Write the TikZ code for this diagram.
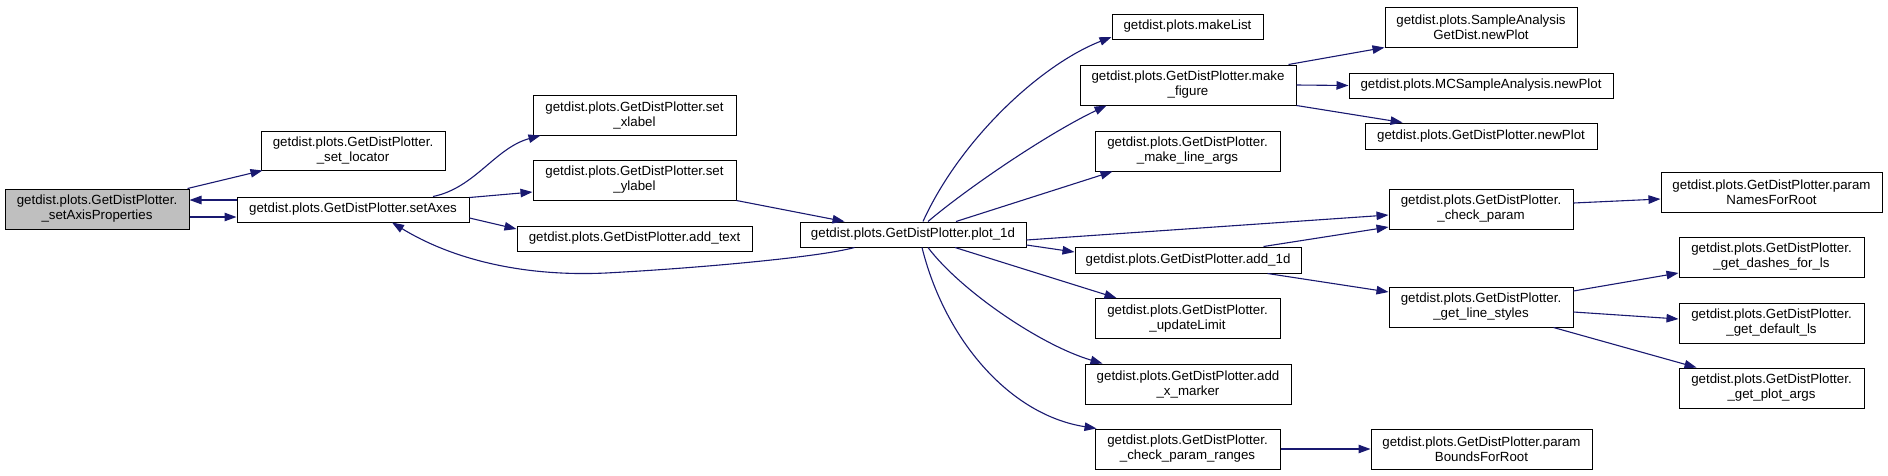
\documentclass[tikz,border=0pt]{standalone}
\usepackage{fontspec}
\setmainfont{Liberation Sans}
\usetikzlibrary{arrows.meta}
\definecolor{edgeblue}{HTML}{191970}
\definecolor{curgray}{HTML}{BFBFBF}
\begin{document}
\begin{tikzpicture}[x=1pt,y=-1pt,
  box/.style={draw=black,line width=1pt,fill=white,inner sep=0pt,align=center,
    font=\fontsize{13.3}{15}\selectfont},
  cur/.style={box,fill=curgray},
  call/.style={draw=edgeblue,line width=1.1pt,-{Triangle[length=12pt,width=8.5pt]},fill=none},
]
\useasboundingbox (0,0) rectangle (1888,475);

\node[cur, minimum width=184pt, minimum height=40pt] (sap) at (97,209) {getdist.plots.GetDistPlotter.\\\_setAxisProperties};
\node[box, minimum width=184pt, minimum height=39pt] (loc) at (353,150.5) {getdist.plots.GetDistPlotter.\\\_set\_locator};
\node[box, minimum width=232pt, minimum height=25pt] (setAxes) at (353,209.5) {getdist.plots.GetDistPlotter.setAxes};
\node[box, minimum width=203pt, minimum height=40pt] (xlab) at (634.5,115) {getdist.plots.GetDistPlotter.set\\\_xlabel};
\node[box, minimum width=203pt, minimum height=40pt] (ylab) at (634.5,180) {getdist.plots.GetDistPlotter.set\\\_ylabel};
\node[box, minimum width=235pt, minimum height=25pt] (addtext) at (634.5,238.5) {getdist.plots.GetDistPlotter.add\_text};
\node[box, minimum width=226pt, minimum height=25pt] (plot1d) at (913,234.5) {getdist.plots.GetDistPlotter.plot\_1d};
\node[box, minimum width=151pt, minimum height=25pt] (makeList) at (1187.5,26.5) {getdist.plots.makeList};
\node[box, minimum width=216pt, minimum height=40pt] (makefig) at (1188,85) {getdist.plots.GetDistPlotter.make\\\_figure};
\node[box, minimum width=185pt, minimum height=40pt] (mla) at (1187.5,151) {getdist.plots.GetDistPlotter.\\\_make\_line\_args};
\node[box, minimum width=226pt, minimum height=26pt] (add1d) at (1188,260) {getdist.plots.GetDistPlotter.add\_1d};
\node[box, minimum width=185pt, minimum height=40pt] (upd) at (1187.5,318.5) {getdist.plots.GetDistPlotter.\\\_updateLimit};
\node[box, minimum width=206pt, minimum height=40pt] (xmark) at (1188,384) {getdist.plots.GetDistPlotter.add\\\_x\_marker};
\node[box, minimum width=185pt, minimum height=40pt] (cpr) at (1187.5,449) {getdist.plots.GetDistPlotter.\\\_check\_param\_ranges};
\node[box, minimum width=192pt, minimum height=40pt] (sagd) at (1481,27) {getdist.plots.SampleAnalysis\\GetDist.newPlot};
\node[box, minimum width=264pt, minimum height=25pt] (mcsa) at (1481,85.5) {getdist.plots.MCSampleAnalysis.newPlot};
\node[box, minimum width=232pt, minimum height=26pt] (gdnp) at (1481,136) {getdist.plots.GetDistPlotter.newPlot};
\node[box, minimum width=184pt, minimum height=40pt] (cp) at (1481,209) {getdist.plots.GetDistPlotter.\\\_check\_param};
\node[box, minimum width=184pt, minimum height=40pt] (gls) at (1481,307) {getdist.plots.GetDistPlotter.\\\_get\_line\_styles};
\node[box, minimum width=221pt, minimum height=40pt] (pbr) at (1481.5,449) {getdist.plots.GetDistPlotter.param\\BoundsForRoot};
\node[box, minimum width=221pt, minimum height=40pt] (pnr) at (1771.5,192) {getdist.plots.GetDistPlotter.param\\NamesForRoot};
\node[box, minimum width=185pt, minimum height=40pt] (gdash) at (1771.5,257) {getdist.plots.GetDistPlotter.\\\_get\_dashes\_for\_ls};
\node[box, minimum width=185pt, minimum height=40pt] (gdef) at (1771.5,323) {getdist.plots.GetDistPlotter.\\\_get\_default\_ls};
\node[box, minimum width=185pt, minimum height=40pt] (gpa) at (1771.5,388) {getdist.plots.GetDistPlotter.\\\_get\_plot\_args};

% edges
\draw[call] ([xshift=-2pt]sap.north east) -- ([xshift=2pt]loc.south west);
\draw[call] ([yshift=-8pt]sap.east) -- ([yshift=-7.5pt]setAxes.west);
\draw[call] ([yshift=9.5pt]setAxes.west) -- ([yshift=9pt]sap.east);
\draw[call] ([xshift=80pt]setAxes.north) .. controls (475,188) and (495,148) .. ([xshift=8pt]xlab.south west);
\draw[call] ([yshift=-1pt]setAxes.north east) -- ([yshift=-12pt]ylab.west);
\draw[call] ([yshift=-8.5pt]setAxes.east) -- ([yshift=9.5pt]addtext.west);
\draw[call] ([xshift=55pt]plot1d.south west) .. controls (820,257) and (700,268) .. (606,273)
  .. controls (520,277) and (450,258) .. ([xshift=39pt]setAxes.south);
\draw[call] (ylab.south east) -- ([xshift=45pt]plot1d.north west);
\draw[call] ([xshift=10pt]plot1d.north) .. controls (960,140) and (1040,65) .. ([yshift=-10.5pt]makeList.west);
\draw[call] ([xshift=15pt]plot1d.north) .. controls (965,190) and (1045,135) .. ([xshift=27pt]makefig.south west);
\draw[call] ([xshift=43pt]plot1d.north) -- ([xshift=18pt]mla.south west);
\draw[call] ([yshift=-5.5pt]plot1d.east) -- ([yshift=-6pt]cp.west);
\draw[call] ([yshift=-10.5pt]plot1d.east) -- ([yshift=8pt]add1d.west);
\draw[call] ([xshift=42pt]plot1d.south) -- ([xshift=22pt]upd.north west);
\draw[call] ([xshift=15pt]plot1d.south) .. controls (960,290) and (1040,345) .. ([xshift=18pt]xmark.north west);
\draw[call] ([xshift=9pt]plot1d.south) .. controls (945,340) and (1010,415) .. ([xshift=2pt]cpr.north west);
\draw[call] ([xshift=-8pt]makefig.north east) -- (sagd.south west);
\draw[call] (makefig.east) -- (mcsa.west);
\draw[call] (makefig.south east) -- ([xshift=38pt]gdnp.north west);
\draw[call] ([xshift=-38pt]add1d.north east) -- ([yshift=-18pt]cp.west);
\draw[call] ([xshift=-34pt]add1d.south east) -- ([yshift=15pt]gls.west);
\draw[call] ([yshift=6pt]cp.east) -- ([yshift=-7pt]pnr.west);
\draw[call] ([yshift=16pt]gls.east) -- ([yshift=-16pt]gdash.west);
\draw[call] ([yshift=-5pt]gls.east) -- ([yshift=4pt]gdef.west);
\draw[call] ([xshift=-20pt]gls.south east) -- ([xshift=18pt]gpa.north west);
\draw[call] (cpr.east) -- (pbr.west);
\end{tikzpicture}
\end{document}
